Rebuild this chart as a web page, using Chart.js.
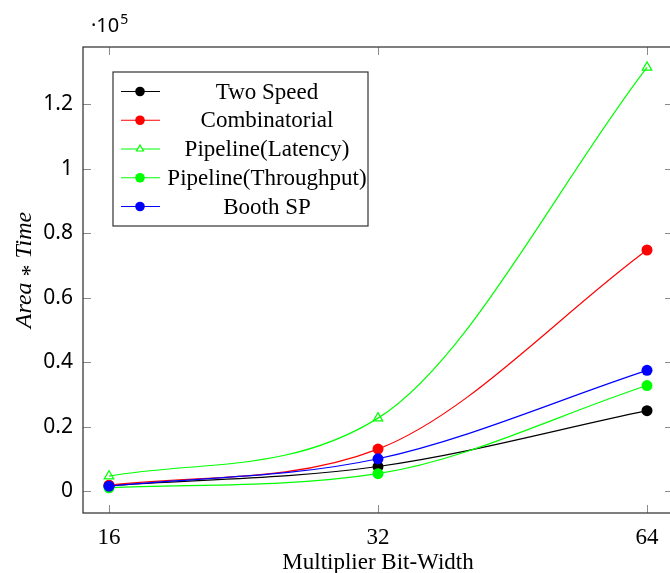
<!DOCTYPE html>
<html>
<head>
<meta charset="utf-8">
<title>Area * Time vs Multiplier Bit-Width</title>
<script src="https://cdn.jsdelivr.net/npm/chart.js@4/dist/chart.umd.min.js"></script>
<style>
    html, body { margin: 0; padding: 0; background: #fff; overflow: hidden; }
    #wrap { width: 670px; height: 573px; overflow: hidden; }
    #chart { display: block; }
</style>
</head>
<body>
<div id="wrap"><canvas id="chart" width="680" height="573"></canvas></div>
<script>
// Data (y in raw units, axis shows it as x10^5)
const bitWidths = [16, 32, 64];
const twoSpeed = [1800, 7700, 25000];
const combinatorial = [1900, 13100, 74800];
const pipelineLatency = [4700, 22700, 131400];
const pipelineThroughput = [1100, 5500, 32800];
const boothSP = [1600, 10100, 37500];

const yTicks = [0, 20000, 40000, 60000, 80000, 100000, 120000];

const serif = "'Liberation Serif', 'Times New Roman', serif";
const sans = "'Noto Sans', 'DejaVu Sans', sans-serif";

// x positions are log2 of the bit width, so 16/32/64 sit evenly apart
function points(values) {
    return bitWidths.map((b, i) => ({ x: Math.log2(b), y: values[i] }));
}

function series(label, values, color, style, order) {
    const hollow = style === 'triangle';
    return {
        label: label,
        data: points(values),
        borderColor: color,
        backgroundColor: hollow ? 'rgba(255,255,255,0)' : color,
        pointBackgroundColor: hollow ? 'rgba(255,255,255,0)' : color,
        pointBorderColor: color,
        pointStyle: style,
        pointRadius: 5.5,
        pointBorderWidth: hollow ? 1.2 : 0,
        borderWidth: 1.2,
        cubicInterpolationMode: 'monotone',
        order: order
    };
}

// Frame, inward ticks, y title, the x10^5 factor and the boxed legend
const pgfDecor = {
    id: 'pgfDecor',
    afterDraw(chart) {
        const ctx = chart.ctx;
        const a = chart.chartArea;
        const xs = chart.scales.x;
        const ys = chart.scales.y;
        const tl = 8;

        ctx.save();
        ctx.strokeStyle = '#8a8a8a';
        ctx.lineWidth = 1;
        ctx.beginPath();
        xs.ticks.forEach(t => {
            const px = Math.round(xs.getPixelForValue(t.value)) + 0.5;
            ctx.moveTo(px, a.bottom); ctx.lineTo(px, a.bottom - tl);
            ctx.moveTo(px, a.top); ctx.lineTo(px, a.top + tl);
        });
        ys.ticks.forEach(t => {
            const py = Math.round(ys.getPixelForValue(t.value)) + 0.5;
            ctx.moveTo(a.left, py); ctx.lineTo(a.left + tl, py);
            ctx.moveTo(a.right, py); ctx.lineTo(a.right - tl, py);
        });
        ctx.stroke();

        ctx.strokeStyle = '#3a3a3a';
        ctx.lineWidth = 1.3;
        ctx.strokeRect(a.left, a.top, a.right - a.left, a.bottom - a.top);

        // y axis title, rotated, in math-style italic
        ctx.save();
        ctx.translate(31, 270);
        ctx.rotate(-Math.PI / 2);
        ctx.fillStyle = '#000';
        ctx.textBaseline = 'alphabetic';
        ctx.textAlign = 'left';
        const italic = 'italic 24px ' + serif;
        const upright = '24px ' + serif;
        ctx.font = italic;
        const wA = ctx.measureText('Area').width;
        const wT = ctx.measureText('Time').width;
        ctx.font = upright;
        const wS = ctx.measureText('*').width;
        const gap = 6;
        const total = wA + gap + wS + gap + wT;
        let x0 = -total / 2;
        ctx.font = italic;
        ctx.fillText('Area', x0, 0);
        x0 += wA + gap;
        ctx.font = upright;
        ctx.fillText('*', x0, 6);
        x0 += wS + gap;
        ctx.font = italic;
        ctx.fillText('Time', x0, 0);
        ctx.restore();

        // scale factor label
        ctx.fillStyle = '#000';
        ctx.textBaseline = 'alphabetic';
        ctx.textAlign = 'left';
        ctx.font = '20px ' + sans;
        ctx.fillText('\u00b710', 91, 32);
        const w = ctx.measureText('\u00b710').width;
        ctx.font = '14px ' + sans;
        ctx.fillText('5', 91 + w + 1, 24);

        // legend
        const lx = 113, ly = 72, lw = 255, lh = 154;
        ctx.fillStyle = '#fff';
        ctx.fillRect(lx, ly, lw, lh);
        ctx.strokeStyle = '#333';
        ctx.lineWidth = 1.2;
        ctx.strokeRect(lx, ly, lw, lh);

        ctx.font = '23px ' + serif;
        ctx.textAlign = 'center';
        ctx.textBaseline = 'middle';
        chart.data.datasets.forEach((ds, i) => {
            const cy = 91.5 + i * 28.75;
            ctx.strokeStyle = ds.borderColor;
            ctx.lineWidth = 1.2;
            ctx.beginPath();
            ctx.moveTo(121, cy);
            ctx.lineTo(160, cy);
            ctx.stroke();
            if (ds.pointStyle === 'triangle') {
                const r = 4;
                ctx.beginPath();
                ctx.moveTo(140, cy - r);
                ctx.lineTo(140 + r * 0.866, cy + r * 0.5);
                ctx.lineTo(140 - r * 0.866, cy + r * 0.5);
                ctx.closePath();
                ctx.fillStyle = '#fff';
                ctx.fill();
                ctx.stroke();
            } else {
                ctx.fillStyle = ds.borderColor;
                ctx.beginPath();
                ctx.arc(140, cy, 4.8, 0, Math.PI * 2);
                ctx.fill();
            }
            ctx.fillStyle = '#000';
            ctx.fillText(ds.label, 267, cy + 1);
        });
        ctx.restore();
    }
};

new Chart(document.getElementById('chart'), {
    type: 'line',
    data: {
        datasets: [
            series('Two Speed', twoSpeed, '#000000', 'circle', 5),
            series('Combinatorial', combinatorial, '#ff0000', 'circle', 4),
            series('Pipeline(Latency)', pipelineLatency, '#00ff00', 'triangle', 3),
            series('Pipeline(Throughput)', pipelineThroughput, '#00ff00', 'circle', 2),
            series('Booth SP', boothSP, '#0000ff', 'circle', 1)
        ]
    },
    options: {
        responsive: false,
        animation: false,
        devicePixelRatio: 1,
        layout: { padding: { top: 47, right: 7, left: 0, bottom: 0 } },
        plugins: {
            legend: { display: false },
            tooltip: { enabled: false }
        },
        scales: {
            x: {
                type: 'linear',
                min: 4 - 26 / 269,
                max: 6 + 26 / 269,
                grid: { display: false, drawTicks: false },
                border: { display: false },
                afterBuildTicks: (scale) => {
                    scale.ticks = bitWidths.map(b => ({ value: Math.log2(b) }));
                },
                afterFit: (scale) => { scale.height = 60; },
                ticks: {
                    padding: 11,
                    color: '#000',
                    font: { family: serif, size: 23 },
                    callback: (value) => String(Math.round(Math.pow(2, value)))
                },
                title: {
                    display: true,
                    text: 'Multiplier Bit-Width',
                    color: '#000',
                    font: { family: serif, size: 23 },
                    padding: { top: 0, bottom: -4 }
                }
            },
            y: {
                type: 'linear',
                min: -6700,
                max: 137700,
                grid: { display: false, drawTicks: false },
                border: { display: false },
                afterBuildTicks: (scale) => {
                    scale.ticks = yTicks.map(v => ({ value: v }));
                },
                afterFit: (scale) => { scale.width = 83; },
                ticks: {
                    padding: 10,
                    color: '#000',
                    font: { family: sans, size: 21 },
                    callback: (value) => String(Number((value / 1e5).toFixed(1)))
                }
            }
        }
    },
    plugins: [pgfDecor]
});
</script>
</body>
</html>
